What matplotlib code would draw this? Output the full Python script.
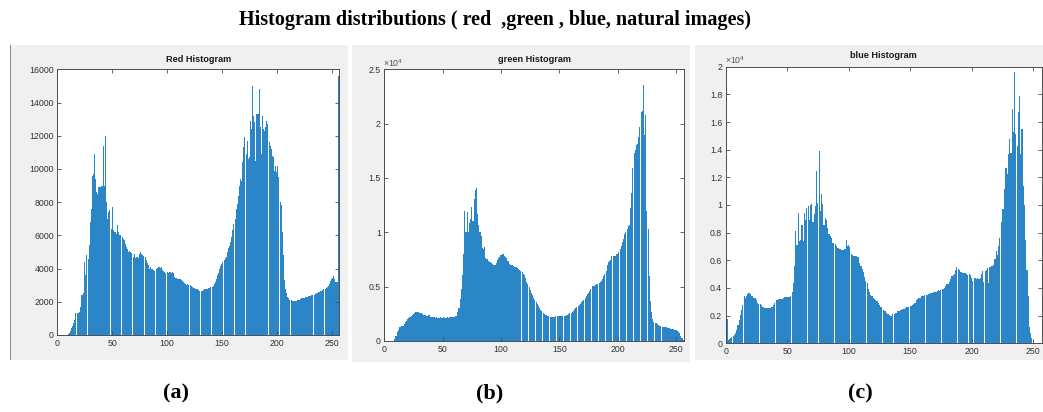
import matplotlib
matplotlib.use('Agg')
import matplotlib.pyplot as plt
from matplotlib.patches import Rectangle

# ---------------- data (counts per intensity bin, plotted at x = 1..256) ----------------
intensity = list(range(1, 257))

red_counts = [
    0, 0, 0, 0, 0, 0, 0, 0, 20, 60, 150, 260, 400, 550, 700, 900,
    1300, 1350, 1300, 1400, 1700, 2400, 2400, 2500, 4400, 3600, 4800, 4600, 5400, 6800, 7600, 9600,
    9700, 10900, 9400, 8600, 8500, 8900, 8900, 9000, 9000, 11400, 9000, 12000, 8000, 7000, 7400, 7500,
    6400, 7700, 6300, 6200, 6200, 6100, 6600, 6200, 6000, 6000, 5900, 5800, 5700, 5500, 5300, 5200,
    5000, 5050, 5000, 4950, 4700, 4900, 4650, 4700, 4700, 4650, 4900, 5000, 4850, 4800, 4750, 4700,
    4500, 4350, 4200, 4000, 4100, 4000, 3950, 3900, 3850, 4000, 4050, 4100, 4100, 4050, 4100, 3900,
    3850, 3800, 3750, 3800, 3750, 3800, 3800, 3750, 3800, 3750, 3500, 3450, 3450, 3400, 3380, 3350,
    3300, 3250, 3200, 3150, 3100, 3000, 3050, 3000, 3000, 2950, 2900, 2850, 2850, 2800, 2750, 2750,
    2700, 2650, 2650, 2620, 2700, 2750, 2800, 2800, 2800, 2820, 2850, 2880, 2900, 2950, 3050, 3200,
    3400, 3600, 3750, 4000, 4150, 4300, 4400, 4500, 4650, 4700, 5000, 5250, 5350, 5600, 5900, 6300,
    6700, 7000, 7600, 7900, 8400, 9000, 9400, 9300, 10400, 11300, 11900, 10900, 11700, 10600, 10700, 12900,
    12400, 15000, 13200, 12800, 10500, 13300, 13300, 14800, 12500, 10900, 13200, 12400, 12300, 12500, 12900, 12700,
    11600, 11400, 11200, 10800, 10700, 9900, 10200, 9800, 10200, 9500, 8000, 7800, 6200, 4800, 3300, 2800,
    2500, 2300, 2200, 2100, 2080, 2070, 2060, 2060, 2060, 2070, 2080, 2100, 2120, 2150, 2200, 2220,
    2250, 2260, 2280, 2300, 2320, 2350, 2370, 2400, 2400, 2420, 2460, 2500, 2530, 2560, 2600, 2620,
    2660, 2720, 2760, 2800, 2850, 2880, 2950, 3050, 3250, 3350, 3450, 3550, 3400, 3200, 3200, 15600,
]

green_counts = [
    0, 0, 0, 0, 0, 0, 0, 0, 180, 500, 800, 1000, 1260, 1330, 1380, 1420,
    1570, 1750, 1880, 2030, 2100, 2190, 2340, 2400, 2450, 2560, 2650, 2650, 2650, 2620, 2620, 2580,
    2500, 2420, 2400, 2320, 2280, 2380, 2400, 2250, 2220, 2200, 2180, 2160, 2170, 2150, 2160, 2170,
    2150, 2160, 2180, 2150, 2160, 2170, 2160, 2170, 2180, 2200, 2220, 2250, 2300, 2340, 2650, 3000,
    3880, 4800, 6030, 8000, 11950, 10000, 11900, 10000, 10900, 11200, 12350, 11000, 13100, 13900, 14100, 11700,
    10700, 10000, 9700, 8600, 8500, 8650, 7600, 7500, 7400, 7300, 7270, 7150, 7100, 6950, 7000, 7200,
    7420, 7600, 7750, 7900, 8050, 8000, 7850, 7750, 7600, 7400, 7100, 7000, 6950, 6950, 6900, 6800,
    6800, 6750, 6650, 6500, 6450, 6340, 6200, 6100, 5800, 5400, 5200, 4960, 4650, 4400, 4190, 3950,
    3750, 3570, 3400, 3200, 3020, 2850, 2720, 2620, 2500, 2420, 2380, 2340, 2300, 2250, 2190, 2180,
    2190, 2220, 2280, 2280, 2290, 2300, 2300, 2280, 2280, 2290, 2300, 2350, 2400, 2450, 2550, 2600,
    2700, 2800, 2900, 3020, 3120, 3250, 3330, 3450, 3550, 3650, 3730, 3950, 4100, 4300, 4450, 4600,
    4800, 5050, 5100, 5100, 5120, 5250, 5270, 5300, 5400, 5550, 5730, 5950, 6200, 6400, 6950, 7250,
    7400, 7450, 7800, 7850, 7820, 7850, 8000, 8050, 8200, 8500, 8700, 9100, 9400, 9800, 10050, 10350,
    10600, 10700, 12200, 13600, 15900, 17300, 17600, 18050, 18100, 18800, 19700, 21100, 21200, 23600, 19000, 20800,
    12000, 10300, 6000, 3700, 2650, 2030, 1790, 1700, 1620, 1540, 1460, 1420, 1360, 1300, 1290, 1280,
    1260, 1250, 1230, 1200, 1150, 1110, 1100, 1080, 1050, 1020, 950, 820, 700, 430, 250, 100,
]

blue_counts = [
    1750, 240, 290, 360, 440, 530, 600, 730, 970, 1330, 1690, 2060, 2420, 2800, 3390, 3270,
    3440, 3580, 3630, 3600, 3450, 3390, 3300, 3270, 3150, 2950, 2860, 2830, 2780, 2650, 2610, 2560,
    2540, 2540, 2550, 2560, 2590, 2660, 2780, 2950, 3100, 3100, 3190, 3200, 3200, 3190, 3250, 3320,
    3340, 3350, 3340, 3320, 3390, 3680, 4360, 5570, 8110, 7140, 9440, 7380, 7500, 8590, 7380, 9440,
    8910, 9800, 9920, 8910, 9970, 10040, 8760, 9320, 9920, 12460, 10160, 13890, 9560, 10770, 10100, 8590,
    9080, 8950, 8350, 7870, 7740, 7620, 7260, 7220, 7190, 7070, 6900, 6900, 6850, 6780, 6780, 6780,
    6800, 7450, 7020, 7140, 6950, 6490, 6400, 6340, 6290, 6290, 6260, 6240, 5810, 5600, 5400, 5130,
    4800, 4500, 4360, 3950, 3700, 3500, 3390, 3270, 3230, 3150, 3050, 2900, 2750, 2650, 2600, 2420,
    2350, 2300, 2180, 2100, 2060, 1980, 2000, 2100, 2150, 2180, 2200, 2300, 2320, 2380, 2420, 2450,
    2500, 2540, 2610, 2630, 2660, 2680, 2720, 2780, 2850, 2950, 3150, 3190, 3270, 3300, 3390, 3440,
    3450, 3460, 3480, 3510, 3550, 3580, 3630, 3640, 3680, 3680, 3700, 3750, 3820, 3800, 3850, 3920,
    3900, 4000, 4110, 4310, 4300, 4450, 4650, 4840, 4950, 5030, 5280, 5520, 5400, 5320, 5130, 5130,
    5100, 5080, 5050, 5000, 4960, 4980, 4950, 4700, 4480, 4720, 4700, 4680, 4700, 4650, 4700, 5030,
    5200, 4400, 5200, 5320, 5450, 4360, 5500, 5600, 5610, 5690, 6100, 6650, 6410, 7020, 7620, 8760,
    9680, 9700, 11130, 12700, 12220, 13670, 14760, 13790, 16940, 15250, 19600, 15120, 14280, 16700, 17900, 13670,
    15490, 11370, 10000, 7500, 5320, 3390, 1210, 730, 360, 120, 0, 0, 0, 0, 0, 0,
]

main_title = 'Histogram distributions ( red  ,green , blue, natural images)'
panel_titles = ['Red Histogram', 'green Histogram', 'blue Histogram']
panel_letters = ['(a)', '(b)', '(c)']

x_ticks = [0, 50, 100, 150, 200, 250]
red_yticks = [0, 2000, 4000, 6000, 8000, 10000, 12000, 14000, 16000]
red_yticklabels = ['0', '2000', '4000', '6000', '8000', '10000', '12000', '14000', '16000']
green_yticks = [0, 5000, 10000, 15000, 20000, 25000]
green_yticklabels = ['0', '0.5', '1', '1.5', '2', '2.5']
blue_yticks = [0, 2000, 4000, 6000, 8000, 10000, 12000, 14000, 16000, 18000, 20000]
blue_yticklabels = ['0', '0.2', '0.4', '0.6', '0.8', '1', '1.2', '1.4', '1.6', '1.8', '2']

# ---------------- figure ----------------
plt.rcParams['font.family'] = ['Liberation Sans', 'DejaVu Sans']
plt.rcParams['mathtext.fontset'] = 'custom'
plt.rcParams['mathtext.rm'] = 'Liberation Sans'

W, H = 1043, 412
fig = plt.figure(figsize=(W / 100, H / 100), dpi=100)
fig.patch.set_facecolor('white')

def fx(px):
    return px / W

def fy(py):
    return 1 - py / H

# gray MATLAB figure panels (left, top, right, bottom in pixels)
panels_px = [(10, 45, 348, 360), (352, 45, 690, 362), (695, 45, 1043, 360)]
for (l, t, r, b) in panels_px:
    fig.patches.append(Rectangle((fx(l), fy(b)), fx(r - l), (b - t) / H,
                                 transform=fig.transFigure, facecolor='#f0f0f0',
                                 edgecolor='none', zorder=-10))
fig.patches.append(Rectangle((fx(9.5), fy(360)), fx(1.2), 315 / H, transform=fig.transFigure,
                             facecolor='#8a8a8a', edgecolor='none', zorder=-9))

axes_px = [(57.3, 69.3, 339.3, 335.0), (384.3, 69.3, 684.3, 341.0), (725.7, 66.7, 1041.7, 343.3)]
series = [red_counts, green_counts, blue_counts]
yticks = [red_yticks, green_yticks, blue_yticks]
yticklabels = [red_yticklabels, green_yticklabels, blue_yticklabels]
ylims = [16000, 25000, 20000]
title_y = [60, 60, 55]

bar_color = '#2a86c7'
axis_color = '#4d4d4d'
text_color = '#333333'

for i in range(3):
    l, t, r, b = axes_px[i]
    ax = fig.add_axes([fx(l), fy(b), (r - l) / W, (b - t) / H])
    ax.set_zorder(5)
    ax.bar(intensity, series[i], width=0.93, color=bar_color, edgecolor='none', linewidth=0)
    ax.set_xlim(0, 257)
    ax.set_ylim(0, ylims[i])
    ax.set_xticks(x_ticks)
    ax.set_xticklabels([str(v) for v in x_ticks])
    ax.set_yticks(yticks[i])
    ax.set_yticklabels(yticklabels[i])
    ax.tick_params(direction='in', length=3, width=0.6, top=True, right=True,
                   labelsize=6.3, colors=axis_color, labelcolor=text_color)
    ax.tick_params(axis='x', pad=3)
    ax.tick_params(axis='y', pad=2.5)
    for sp in ax.spines.values():
        sp.set_color(axis_color)
        sp.set_linewidth(0.7)
    ax.set_facecolor('white')
    fig.text(fx((l + r) / 2), fy(title_y[i]), panel_titles[i], ha='center', va='center',
             fontsize=6.6, fontweight='bold', color='#1a1a1a')

# x10^4 exponent labels
fig.text(fx(383), fy(63), r'$\times\mathregular{10^4}$', ha='left', va='center',
         fontsize=6.3, color='#555555')
fig.text(fx(725), fy(60), r'$\times\mathregular{10^4}$', ha='left', va='center',
         fontsize=6.3, color='#555555')

# main title and sub-figure letters
fig.text(fx(495), fy(20), main_title, ha='center', va='center', fontsize=14.5,
         fontweight='bold', family='Liberation Serif', color='black')
letter_x = [176, 490, 860]
for lx, lt in zip(letter_x, panel_letters):
    fig.text(fx(lx), fy(393), lt, ha='center', va='center', fontsize=16,
             fontweight='bold', family='Liberation Serif', color='black')

fig.savefig('out.png', dpi=100, facecolor='white')
